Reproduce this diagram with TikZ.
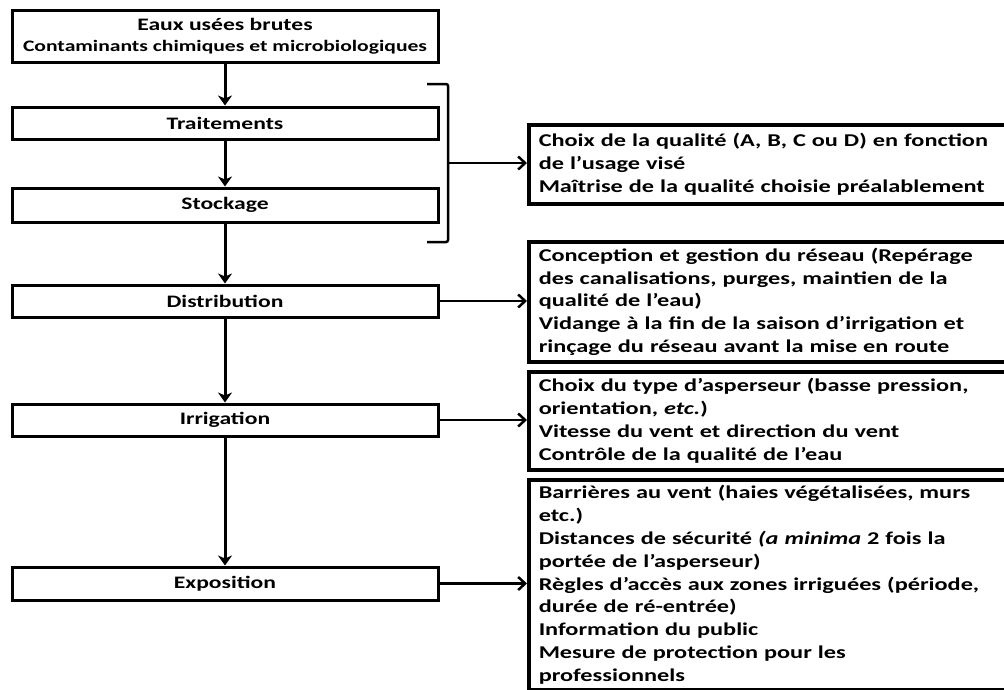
\documentclass[tikz,border=0pt]{standalone}
\usepackage{fontspec}
\setmainfont{Carlito}[FakeStretch=1.35]
\usetikzlibrary{arrows.meta}
\begin{document}
\begin{tikzpicture}[x=1pt,y=-1pt,
  lbox/.style={draw, line width=3pt, minimum width=426pt, inner sep=0pt, align=center,
    font=\bfseries\fontsize{17.5}{20}\selectfont},
  rbox/.style={draw, line width=3.5pt, anchor=north west, align=left, inner xsep=10pt,
    inner ysep=0pt, text width=520pt, font=\bfseries\fontsize{18}{22.8}\selectfont},
  down/.style={line width=3pt, -{Stealth[length=10pt,width=14pt,inset=3pt]}},
  side/.style={line width=2.5pt, -{Straight Barb[length=7pt,width=13pt]}},
  brack/.style={line width=2.5pt, rounded corners=2pt}
]
\useasboundingbox (0,0) rectangle (1004,689);
\clip (0,0) rectangle (1004,689);

% left column
\node[lbox, minimum height=52pt] (src) at (225,36)
  {Eaux usées brutes\\[1pt]{\fontsize{16}{20}\selectfont Contaminants chimiques et microbiologiques}};
\node[lbox, minimum height=32pt] (trt) at (225,123) {Traitements};
\node[lbox, minimum height=34pt] (sto) at (225,205) {Stockage};
\node[lbox, minimum height=32pt] (dis) at (225,301) {Distribution};
\node[lbox, minimum height=32pt] (irr) at (225,420) {Irrigation};
\node[lbox, minimum height=33pt] (exp) at (225,583.5) {Exposition};

% right column
\node[rbox, minimum height=79pt] (rb1) at (527,123)
  {Choix de la qualité (A, B, C ou D) en fonction\\
   de l’usage visé\\
   Maîtrise de la qualité choisie préalablement};
\node[rbox, minimum height=120pt] (rb2) at (527,240)
  {Conception et gestion du réseau (Repérage\\
   des canalisations, purges, maintien de la\\
   qualité de l’eau)\\
   Vidange à la fin de la saison d’irrigation et\\
   rinçage du réseau avant la mise en route};
\node[rbox, minimum height=98pt] (rb3) at (527,370)
  {Choix du type d’asperseur (basse pression,\\
   orientation, \textit{etc.})\\
   Vitesse du vent et direction du vent\\
   Contrôle de la qualité de l’eau};
\node[rbox, minimum height=210pt] (rb4) at (527,478)
  {Barrières au vent (haies végétalisées, murs\\
   etc.)\\
   Distances de sécurité \textit{(a minima} 2 fois la\\
   portée de l’asperseur)\\
   Règles d’accès aux zones irriguées (période,\\
   durée de ré-entrée)\\
   Information du public\\
   Mesure de protection pour les\\
   professionnels};

% vertical flow
\draw[down] (src.south) -- (trt.north);
\draw[down] (trt.south) -- (sto.north);
\draw[down] (sto.south) -- (dis.north);
\draw[down] (dis.south) -- (irr.north);
\draw[down] (irr.south) -- (exp.north);

% bracket
\coordinate (bt) at (427,84);
\coordinate (bb) at (427,242);
\coordinate (bm) at (448,163);
\draw[brack] (bt) -- (448,84) -- (448,242) -- (bb);
\draw[side] (bm) -- (bm -| rb1.west);

% side arrows
\draw[side] (dis.east) -- (dis.east -| rb2.west);
\draw[side] (irr.east) -- (irr.east -| rb3.west);
\draw[side] (exp.east) -- (exp.east -| rb4.west);
\end{tikzpicture}
\end{document}
